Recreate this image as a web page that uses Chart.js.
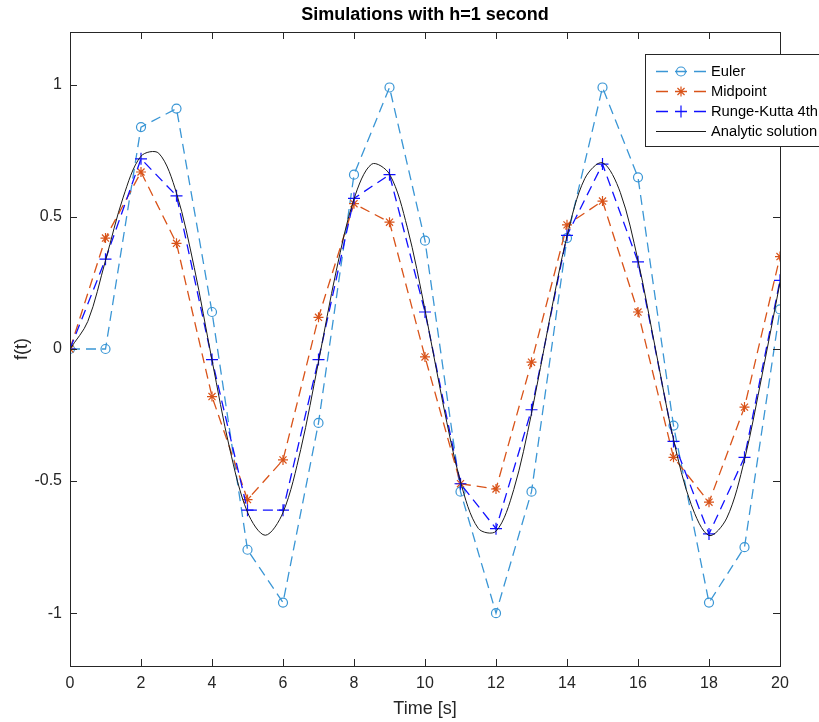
<!DOCTYPE html>
<html>
<head>
<meta charset="utf-8">
<script src="https://cdn.jsdelivr.net/npm/chart.js@4.4.1/dist/chart.umd.min.js"></script>
<style>
  html, body { margin: 0; padding: 0; background: #fff; }
  canvas { display: block; }
</style>
</head>
<body>
<canvas id="chart" width="819" height="722"></canvas>
<script>
/* ── values ── */
const stepTimes = [0, 1, 2, 3, 4, 5, 6, 7, 8, 9, 10, 11, 12, 13, 14, 15, 16, 17, 18, 19, 20];
const eulerValues = [0, 0, 0.84, 0.91, 0.14, -0.76, -0.96, -0.28, 0.66, 0.99, 0.41, -0.54, -1.00, -0.54, 0.42, 0.99, 0.65, -0.29, -0.96, -0.75, 0.15];
const midpointValues = [0, 0.42, 0.67, 0.40, -0.18, -0.57, -0.42, 0.12, 0.55, 0.48, -0.03, -0.51, -0.53, -0.05, 0.47, 0.56, 0.14, -0.41, -0.58, -0.22, 0.35];
const rk4Values = [0, 0.34, 0.72, 0.58, -0.04, -0.61, -0.61, -0.04, 0.57, 0.66, 0.14, -0.51, -0.68, -0.23, 0.43, 0.70, 0.33, -0.35, -0.70, -0.41, 0.26];

const analyticTimes = [0, 0.5, 1, 1.5, 2, 2.5, 3, 3.5, 4, 4.5, 5, 5.5, 6, 6.5, 7, 7.5, 8, 8.5, 9, 9.5, 10,
    10.5, 11, 11.5, 12, 12.5, 13, 13.5, 14, 14.5, 15, 15.5, 16, 16.5, 17, 17.5, 18, 18.5, 19, 19.5, 20];
const analyticValues = [0, 0.104, 0.335, 0.575, 0.730, 0.741, 0.590, 0.308, -0.042, -0.378, -0.618, -0.705, -0.619, -0.380, -0.048, 0.296, 0.568, 0.700, 0.662, 0.461, 0.148,
    -0.202, -0.502, -0.679, -0.690, -0.532, -0.244, 0.105, 0.427, 0.645, 0.705, 0.593, 0.335, -0.005, -0.343, -0.589, -0.706, -0.640, -0.419, -0.095, 0.252];

const xTicks = [0, 2, 4, 6, 8, 10, 12, 14, 16, 18, 20];
const yTicks = [-1, -0.5, 0, 0.5, 1];
const seriesLabels = ['Euler', 'Midpoint', 'Runge-Kutta 4th', 'Analytic solution'];

const FONT = '"Liberation Sans", Arial, Helvetica, sans-serif';
const AXIS_COLOR = '#262626';

const toPoints = (xs, ys) => xs.map((x, i) => ({ x, y: ys[i] }));

/* box + inward ticks on all four sides, like the original axes */
const frameTicks = {
    id: 'frameTicks',
    afterDatasetsDraw(chart) {
        const { ctx, chartArea: a, scales: { x, y } } = chart;
        const len = 7;
        ctx.save();
        ctx.strokeStyle = AXIS_COLOR;
        ctx.lineWidth = 1;
        ctx.beginPath();
        xTicks.forEach(v => {
            const px = Math.round(x.getPixelForValue(v)) + 0.5;
            ctx.moveTo(px, a.bottom); ctx.lineTo(px, a.bottom - len);
            ctx.moveTo(px, a.top); ctx.lineTo(px, a.top + len);
        });
        yTicks.forEach(v => {
            const py = Math.round(y.getPixelForValue(v)) + 0.5;
            ctx.moveTo(a.left, py); ctx.lineTo(a.left + len, py);
            ctx.moveTo(a.right, py); ctx.lineTo(a.right - len, py);
        });
        ctx.stroke();
        ctx.strokeRect(a.left + 0.5, a.top + 0.5, a.right - a.left, a.bottom - a.top);
        ctx.restore();
    }
};

/* legend box in the top right corner, line sample with marker in the middle */
const boxLegend = {
    id: 'boxLegend',
    afterDraw(chart) {
        const ctx = chart.ctx;
        const left = 645, top = 54, w = 190, h = 92, rowH = 20.3;
        ctx.save();
        ctx.fillStyle = '#fff';
        ctx.fillRect(left, top, w, h);
        ctx.strokeStyle = AXIS_COLOR;
        ctx.lineWidth = 1;
        ctx.strokeRect(left + 0.5, top + 0.5, w, h);
        chart.data.datasets.forEach((ds, i) => {
            const yy = Math.round(top + 16.5 + i * rowH) + 0.5;
            ctx.strokeStyle = ds.borderColor;
            ctx.lineWidth = ds.borderWidth;
            ctx.setLineDash(ds.borderDash && ds.borderDash.length ? [12, 7] : []);
            ctx.beginPath();
            ctx.moveTo(656, yy);
            ctx.lineTo(706, yy);
            ctx.stroke();
            ctx.setLineDash([]);
            if (ds.pointRadius > 0) {
                ctx.strokeStyle = ds.pointBorderColor;
                ctx.fillStyle = 'rgba(0,0,0,0)';
                ctx.lineWidth = ds.pointBorderWidth;
                Chart.helpers.drawPoint(ctx, {
                    pointStyle: ds.pointStyle, radius: ds.pointRadius, rotation: 0, borderWidth: ds.pointBorderWidth
                }, 681, yy);
            }
            ctx.fillStyle = '#000';
            ctx.font = '14.7px ' + FONT;
            ctx.textBaseline = 'middle';
            ctx.textAlign = 'left';
            ctx.fillText(ds.label, 711, yy);
        });
        ctx.restore();
    }
};

const dashed = (label, color, values, style, radius, order) => ({
    label,
    data: toPoints(stepTimes, values),
    borderColor: color,
    borderWidth: 1.3,
    borderDash: [10, 6],
    tension: 0,
    pointStyle: style,
    pointRadius: radius,
    pointBorderColor: color,
    pointBackgroundColor: 'rgba(0,0,0,0)',
    pointBorderWidth: 1.2,
    fill: false,
    order,
});

new Chart(document.getElementById('chart'), {
    type: 'line',
    data: {
        datasets: [
            dashed(seriesLabels[0], '#3a96d5', eulerValues, 'circle', 4.5, 4),
            dashed(seriesLabels[1], '#D95319', midpointValues, 'star', 5, 3),
            dashed(seriesLabels[2], '#1010ff', rk4Values, 'cross', 6, 2),
            {
                label: seriesLabels[3],
                data: toPoints(analyticTimes, analyticValues),
                borderColor: '#1a1a1a',
                borderWidth: 1,
                tension: 0.33,
                pointRadius: 0,
                fill: false,
                order: 1,
            },
        ],
    },
    options: {
        responsive: false,
        animation: false,
        devicePixelRatio: 1,
        layout: { padding: { top: 0, right: 39, bottom: 0, left: 0 } },
        plugins: {
            legend: { display: false },
            tooltip: { enabled: false },
            title: {
                display: true,
                fullSize: false,
                text: 'Simulations with h=1 second',
                color: '#000',
                font: { family: FONT, size: 18, weight: 'bold', lineHeight: 1.2 },
                padding: { top: 4, bottom: 6.4 },
            },
        },
        scales: {
            x: {
                type: 'linear',
                min: 0,
                max: 20,
                afterBuildTicks: s => { s.ticks = xTicks.map(v => ({ value: v })); },
                afterFit: s => { s.height = 56; },
                grid: { display: false, drawTicks: false },
                border: { display: false },
                ticks: { color: AXIS_COLOR, font: { family: FONT, size: 16 }, padding: 8, maxRotation: 0, autoSkip: false },
                title: { display: true, text: 'Time [s]', color: AXIS_COLOR, font: { family: FONT, size: 18 }, padding: { top: 0, bottom: 2 } },
            },
            y: {
                type: 'linear',
                min: -1.2,
                max: 1.2,
                afterBuildTicks: s => { s.ticks = yTicks.map(v => ({ value: v })); },
                afterFit: s => { s.width = 70; },
                grid: { display: false, drawTicks: false },
                border: { display: false },
                ticks: { color: AXIS_COLOR, font: { family: FONT, size: 16 }, padding: 8, autoSkip: false, callback: v => String(v) },
                title: { display: true, text: 'f(t)', color: AXIS_COLOR, font: { family: FONT, size: 18 }, padding: { top: 11, bottom: 0 } },
            },
        },
    },
    plugins: [frameTicks, boxLegend],
});
</script>
</body>
</html>
